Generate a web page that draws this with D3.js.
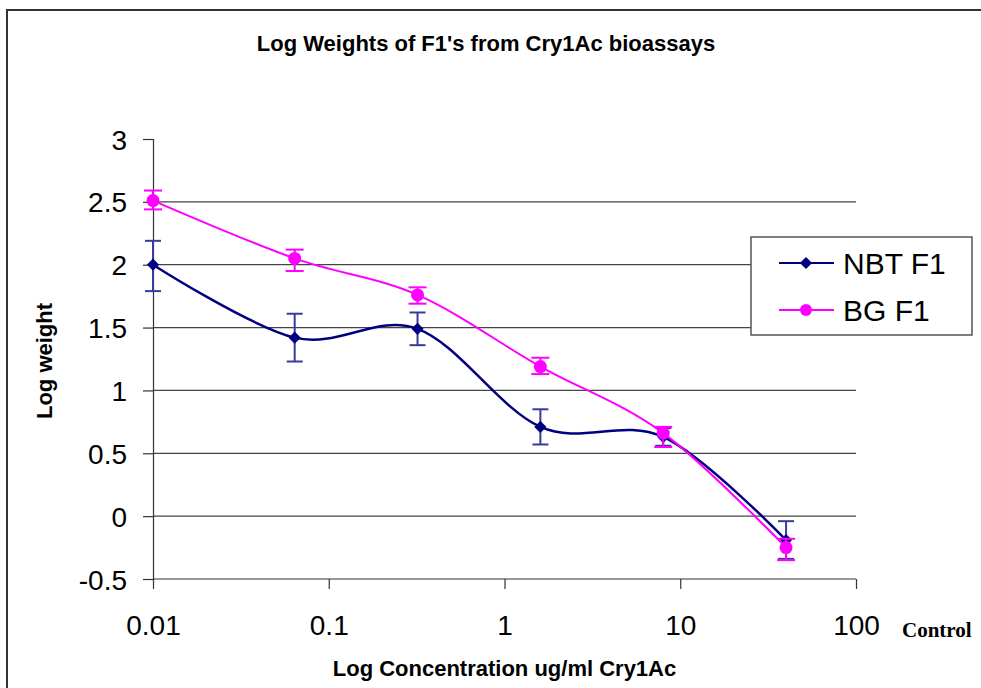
<!DOCTYPE html>
<html>
<head>
<meta charset="utf-8">
<script src="https://cdn.jsdelivr.net/npm/d3@7"></script>
<style>
  body { margin: 0; background: #fff; }
  svg { display: block; }
</style>
</head>
<body>
<div id="container"></div>
<script>
// data
var conc = [0.01, 0.064, 0.32, 1.6, 8, 40];
var nbt = [2.0, 1.42, 1.49, 0.71, 0.63, -0.19];
var nbtHi = [2.19, 1.61, 1.62, 0.85, 0.70, -0.04];
var nbtLo = [1.79, 1.23, 1.36, 0.57, 0.56, -0.34];
var bg = [2.51, 2.05, 1.76, 1.19, 0.66, -0.25];
var bgHi = [2.59, 2.12, 1.82, 1.26, 0.71, -0.18];
var bgLo = [2.44, 1.95, 1.69, 1.13, 0.55, -0.35];
var xTicks = [0.01, 0.1, 1, 10, 100];
var yTicks = [-0.5, 0, 0.5, 1, 1.5, 2, 2.5, 3];
var seriesNames = ["NBT F1", "BG F1"];

var width = 981, height = 688;
var plot = {left: 153, right: 856, top: 139, bottom: 579};

var svg = d3.select("#container").append("svg")
  .attr("width", width)
  .attr("height", height);

// outer frame (runs off the right and bottom edges)
svg.append("rect")
  .attr("x", 7).attr("y", 10)
  .attr("width", 1000).attr("height", 700)
  .attr("fill", "#fff")
  .attr("stroke", "#333")
  .attr("stroke-width", 2);

var x = d3.scaleLog().domain([0.01, 100]).range([plot.left, plot.right]);
var y = d3.scaleLinear().domain([-0.5, 3]).range([plot.bottom, plot.top]);

// gridlines
svg.append("g").selectAll("line")
  .data(yTicks.filter(function(d) { return d > -0.5 && d < 3; }))
  .enter().append("line")
  .attr("x1", plot.left).attr("x2", plot.right)
  .attr("y1", function(d) { return y(d); })
  .attr("y2", function(d) { return y(d); })
  .attr("stroke", "#444")
  .attr("stroke-width", 1.2);

// y axis
var yAxis = svg.append("g")
  .attr("transform", "translate(" + plot.left + ",0)")
  .call(d3.axisLeft(y).tickValues(yTicks).tickSize(10).tickPadding(16)
    .tickFormat(function(d) { return String(d); }));
yAxis.selectAll("path, line").attr("stroke", "#333").attr("stroke-width", 1.2);
yAxis.selectAll("text")
  .attr("font-family", "Liberation Sans, Arial, sans-serif")
  .attr("font-size", 28)
  .attr("fill", "#000")
  .attr("dy", "0.36em");

// x axis
var xAxis = svg.append("g")
  .attr("transform", "translate(0," + plot.bottom + ")")
  .call(d3.axisBottom(x).tickValues(xTicks).tickSize(10)
    .tickFormat(function(d) { return String(d); }));
xAxis.select(".domain").attr("d", "M" + plot.left + ",0H" + plot.right);
xAxis.selectAll("path, line").attr("stroke", "#333").attr("stroke-width", 1.2);
xAxis.selectAll("text")
  .attr("font-family", "Liberation Sans, Arial, sans-serif")
  .attr("font-size", 28)
  .attr("fill", "#000")
  .attr("y", 56)
  .attr("dy", 0);

// smoothed line like the spreadsheet: catmull-rom (cardinal, tension 0) in screen space
var line = d3.line()
  .x(function(d) { return x(d[0]); })
  .y(function(d) { return y(d[1]); })
  .curve(d3.curveCardinal.tension(0));

function errorBars(hi, lo, color, capHalf) {
  var g = svg.append("g").attr("stroke", color).attr("stroke-width", 2).attr("fill", "none");
  conc.forEach(function(c, i) {
    var cx = x(c);
    g.append("line").attr("x1", cx).attr("x2", cx).attr("y1", y(hi[i])).attr("y2", y(lo[i]));
    g.append("line").attr("x1", cx - capHalf).attr("x2", cx + capHalf).attr("y1", y(hi[i])).attr("y2", y(hi[i]));
    g.append("line").attr("x1", cx - capHalf).attr("x2", cx + capHalf).attr("y1", y(lo[i])).attr("y2", y(lo[i]));
  });
}

var diamond = d3.symbol().type(d3.symbolDiamond2).size(95);

// NBT F1
errorBars(nbtHi, nbtLo, "#3a3a9e", 8);
svg.append("path")
  .datum(d3.zip(conc, nbt))
  .attr("d", line)
  .attr("fill", "none")
  .attr("stroke", "#000080")
  .attr("stroke-width", 2.5);
svg.append("g").selectAll("path")
  .data(conc)
  .enter().append("path")
  .attr("d", diamond)
  .attr("transform", function(d, i) { return "translate(" + x(d) + "," + y(nbt[i]) + ")"; })
  .attr("fill", "#000080");

// BG F1
errorBars(bgHi, bgLo, "#ff00ff", 9);
svg.append("path")
  .datum(d3.zip(conc, bg))
  .attr("d", line)
  .attr("fill", "none")
  .attr("stroke", "#ff00ff")
  .attr("stroke-width", 2);
svg.append("g").selectAll("circle")
  .data(conc)
  .enter().append("circle")
  .attr("cx", function(d) { return x(d); })
  .attr("cy", function(d, i) { return y(bg[i]); })
  .attr("r", 6.5)
  .attr("fill", "#ff00ff");

// title
svg.append("text")
  .attr("x", 486).attr("y", 51)
  .attr("text-anchor", "middle")
  .attr("font-family", "Liberation Sans, Arial, sans-serif")
  .attr("font-weight", "bold")
  .attr("font-size", 22)
  .text("Log Weights of F1's from Cry1Ac bioassays");

// axis titles
svg.append("text")
  .attr("x", (plot.left + plot.right) / 2).attr("y", 676)
  .attr("text-anchor", "middle")
  .attr("font-family", "Liberation Sans, Arial, sans-serif")
  .attr("font-weight", "bold")
  .attr("font-size", 22)
  .text("Log Concentration ug/ml Cry1Ac");

svg.append("text")
  .attr("transform", "translate(52,361) rotate(-90)")
  .attr("text-anchor", "middle")
  .attr("font-family", "Liberation Sans, Arial, sans-serif")
  .attr("font-weight", "bold")
  .attr("font-size", 22)
  .text("Log weight");

svg.append("text")
  .attr("x", 902).attr("y", 637)
  .attr("font-family", "Liberation Serif, Times New Roman, serif")
  .attr("font-weight", "bold")
  .attr("font-size", 21)
  .text("Control");

// legend
var legend = svg.append("g");
legend.append("rect")
  .attr("x", 751).attr("y", 237)
  .attr("width", 221).attr("height", 98)
  .attr("fill", "#fff")
  .attr("stroke", "#555")
  .attr("stroke-width", 1.5);
var legendRows = [263, 310];
var legendColors = ["#000080", "#ff00ff"];
seriesNames.forEach(function(name, i) {
  var ly = legendRows[i];
  legend.append("line")
    .attr("x1", 779).attr("x2", 834)
    .attr("y1", ly).attr("y2", ly)
    .attr("stroke", legendColors[i])
    .attr("stroke-width", 2);
  if (i == 0) {
    legend.append("path").attr("d", diamond)
      .attr("transform", "translate(806," + ly + ")")
      .attr("fill", legendColors[i]);
  } else {
    legend.append("circle").attr("cx", 806).attr("cy", ly).attr("r", 6)
      .attr("fill", legendColors[i]);
  }
  legend.append("text")
    .attr("x", 843).attr("y", ly)
    .attr("dy", "0.36em")
    .attr("font-family", "Liberation Sans, Arial, sans-serif")
    .attr("font-size", 30)
    .text(name);
});
</script>
</body>
</html>
